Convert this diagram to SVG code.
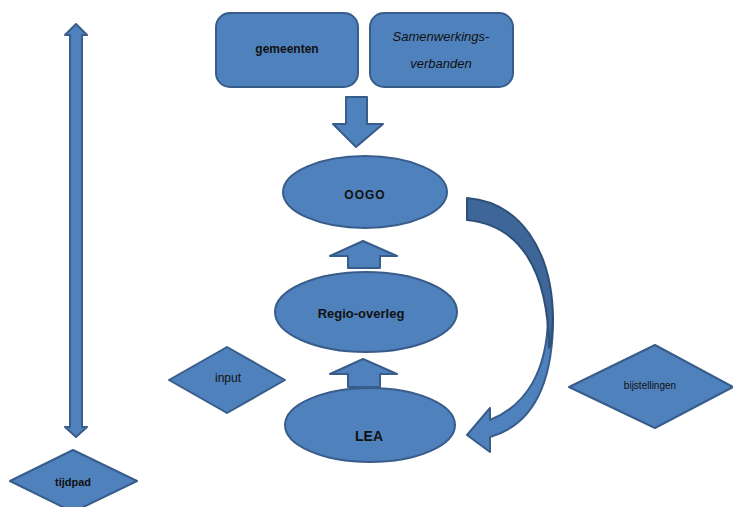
<svg xmlns="http://www.w3.org/2000/svg" width="733" height="507" viewBox="0 0 733 507">
<style>
.s{fill:#4f81bd;stroke:#385d8a;stroke-width:2;stroke-linejoin:round}
.d{fill:#3f6698;stroke:#2e4f78;stroke-width:2;stroke-linejoin:round}
text{font-family:"Liberation Sans",Arial,sans-serif;fill:#111;text-anchor:middle;dominant-baseline:central}
.b{font-weight:bold}
</style>
<rect width="733" height="507" fill="#fff"/>
<g id="connectors">
<path class="s" d="M76,24 L87,35 L82,35 L82,427 L87,427 L76,437 L65,427 L70,427 L70,35 L65,35 Z"/>
<path class="s" d="M346,97 L367,97 L367,124 L383,124 L356,147 L333,124 L346,124 Z"/>
<path class="s" d="M363,241 L397,256 L380,256 L380,268 L348,268 L348,256 L330,256 Z"/>
<path class="s" d="M363,359 L397,374 L380,374 L380,387 L348,387 L348,374 L330,374 Z"/>
<path class="s" d="M553,318 C553,385 532,425 490,437 L490,452 L467,435 L490,408 L490,420 C527,405 547,370 548,318 Z"/>
<path class="d" d="M467,198 C520,202 552,250 553,318 C552,340 551,345 549,348 C548,270 520,225 467,220 Z"/>
</g>
<g id="gemeenten"><rect class="s" x="216" y="13" width="142" height="74" rx="14"/><text class="b" x="287" y="49" font-size="12">gemeenten</text></g>
<g id="samenwerkingsverbanden"><rect class="s" x="370" y="13" width="143" height="74" rx="14"/><text x="441" y="36" font-size="13" font-style="italic">Samenwerkings-</text><text x="441" y="63" font-size="13" font-style="italic">verbanden</text></g>
<g id="oogo"><ellipse class="s" cx="365" cy="192" rx="82" ry="36"/><text class="b" x="365" y="195" font-size="12" letter-spacing="1">OOGO</text></g>
<g id="regio"><ellipse class="s" cx="366" cy="312" rx="91" ry="40"/><text class="b" x="361" y="313" font-size="13">Regio-overleg</text></g>
<g id="lea"><ellipse class="s" cx="370" cy="425" rx="85" ry="37"/><text class="b" x="369" y="436" font-size="14">LEA</text></g>
<g id="input"><path class="s" d="M227,347 L285,380 L227,413 L169,380 Z"/><text x="228" y="378" font-size="12">input</text></g>
<g id="bijstellingen"><path class="s" d="M655,345 L733,387 L655,428 L569,387 Z"/><text x="650" y="385" font-size="10">bijstellingen</text></g>
<g id="tijdpad"><path class="s" d="M73,450 L137,481 L73,512 L10,481 Z"/><text class="b" x="73" y="482" font-size="11">tijdpad</text></g>
</svg>
